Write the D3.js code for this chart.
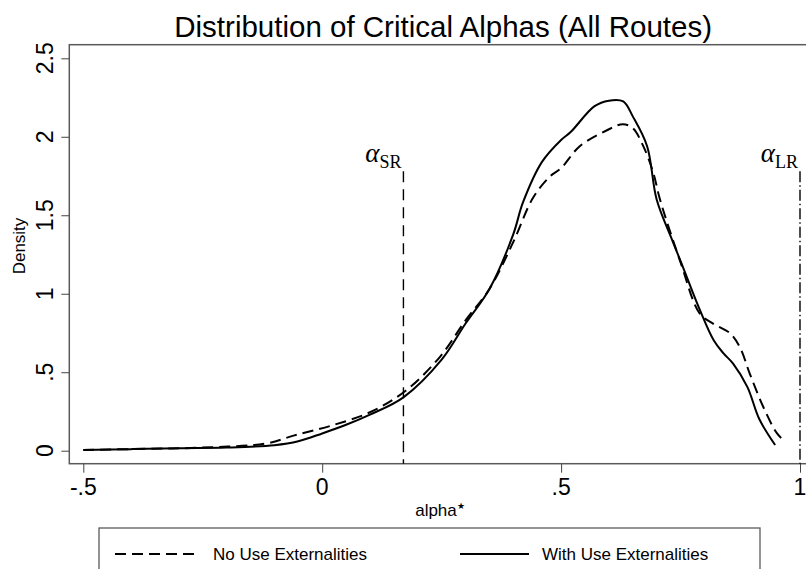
<!DOCTYPE html>
<html>
<head>
<meta charset="utf-8">
<script src="https://cdn.jsdelivr.net/npm/d3@7"></script>
<style>
  body { margin: 0; background: #fff; }
  text { font-family: "Liberation Sans", Arial, Helvetica, sans-serif; fill: #000; }
  .greek { font-family: "Liberation Serif", "Times New Roman", serif; }
</style>
</head>
<body>
<div id="chart"></div>
<script>
// density estimates
let withUseX = [-0.5, -0.4, -0.3, -0.2, -0.1, -0.05, 0, 0.05, 0.1, 0.17, 0.25, 0.3, 0.35, 0.4, 0.42, 0.46, 0.5, 0.52, 0.57, 0.6, 0.63, 0.65, 0.68, 0.7, 0.73, 0.755, 0.79, 0.82, 0.84, 0.86, 0.89, 0.915, 0.948];
let withUseY = [0.004, 0.01, 0.016, 0.02, 0.035, 0.06, 0.11, 0.165, 0.23, 0.34, 0.58, 0.81, 1.03, 1.38, 1.58, 1.84, 1.98, 2.03, 2.195, 2.23, 2.225, 2.13, 1.94, 1.6, 1.36, 1.17, 0.9, 0.7, 0.62, 0.555, 0.405, 0.2, 0.036];

let noUseX = [-0.5, -0.37, -0.25, -0.116, -0.06, 0.016, 0.1, 0.174, 0.247, 0.3, 0.35, 0.4, 0.441, 0.476, 0.5, 0.539, 0.595, 0.629, 0.65, 0.672, 0.693, 0.707, 0.75, 0.79, 0.818, 0.853, 0.874, 0.895, 0.923, 0.952, 0.969];
let noUseY = [0.005, 0.012, 0.02, 0.047, 0.096, 0.157, 0.245, 0.38, 0.6, 0.83, 1.03, 1.33, 1.61, 1.745, 1.8, 1.94, 2.04, 2.08, 2.055, 1.94, 1.77, 1.6, 1.2, 0.875, 0.81, 0.75, 0.66, 0.49, 0.28, 0.11, 0.057];

let xTicks = [-0.5, 0, 0.5, 1];
let yTicks = [0, 0.5, 1, 1.5, 2, 2.5];
let tickFmt = (v) => String(v).replace('0.', '.').replace('-0.', '-.');

// reference lines: alpha value, top of line, subscript
let refLines = [
  { alpha: 0.17, top: 1.78, sub: 'SR', dash: '11,7' },
  { alpha: 1.0, top: 1.78, sub: 'LR', dash: '11,3,1.5,3' },
];

let titleText = 'Distribution of Critical Alphas (All Routes)';
let legendLabels = ['No Use Externalities', 'With Use Externalities'];

let W = 806, H = 569;
let plot = { left: 69.3, right: 817, top: 44.7, bottom: 463.7 };

let x = d3.scaleLinear().domain([-0.5, 1]).range([83.3, 800]);
let y = d3.scaleLinear().domain([0, 2.5]).range([450.7, 58.3]);

const svg = d3.select('#chart').append('svg')
  .attr('width', W).attr('height', H)
  .attr('viewBox', [0, 0, W, H]);

// title
svg.append('text')
  .attr('x', (plot.left + plot.right) / 2)
  .attr('y', 37)
  .attr('text-anchor', 'middle')
  .style('font-size', '29.5px')
  .text(titleText);

// plot frame
svg.append('rect')
  .attr('x', plot.left).attr('y', plot.top)
  .attr('width', plot.right - plot.left)
  .attr('height', plot.bottom - plot.top)
  .attr('fill', 'none')
  .attr('stroke', '#5a5a5a')
  .attr('stroke-width', 1.5);

// y axis
let yAxis = (g) =>
  g.attr('transform', `translate(${plot.left},0)`)
    .call(d3.axisLeft(y).tickValues(yTicks).tickSize(8).tickFormat(''))
    .call((g) => g.select('.domain').remove())
    .call((g) => g.selectAll('line').attr('stroke', '#444'));
svg.append('g').attr('class', 'y-axis').call(yAxis);

svg.append('g').selectAll('text')
  .data(yTicks)
  .join('text')
  .attr('transform', (d) => `translate(53,${y(d)}) rotate(-90)`)
  .attr('text-anchor', 'middle')
  .style('font-size', '23px')
  .text(tickFmt);

// x axis
let xAxis = (g) =>
  g.attr('transform', `translate(0,${plot.bottom})`)
    .call(d3.axisBottom(x).tickValues(xTicks).tickSize(9).tickFormat(''))
    .call((g) => g.select('.domain').remove())
    .call((g) => g.selectAll('line').attr('stroke', '#444'));
svg.append('g').attr('class', 'x-axis').call(xAxis);

svg.append('g').selectAll('text')
  .data(xTicks)
  .join('text')
  .attr('x', (d) => x(d))
  .attr('y', 495)
  .attr('text-anchor', 'middle')
  .style('font-size', '23px')
  .text(tickFmt);

// axis titles
svg.append('text')
  .attr('transform', `translate(25,246) rotate(-90)`)
  .attr('text-anchor', 'middle')
  .style('font-size', '17px')
  .text('Density');

let xl = svg.append('text')
  .attr('x', 440)
  .attr('y', 516)
  .attr('text-anchor', 'middle')
  .style('font-size', '17px');
xl.append('tspan').text('alpha');
xl.append('tspan').attr('dy', -7).style('font-size', '9px').text('★');

// reference lines with greek labels
refLines.forEach((r) => {
  svg.append('line')
    .attr('x1', x(r.alpha)).attr('x2', x(r.alpha))
    .attr('y1', y(r.top)).attr('y2', plot.bottom)
    .attr('stroke', '#000')
    .attr('stroke-width', 1.4)
    .attr('stroke-dasharray', r.dash);
  let t = svg.append('text')
    .attr('class', 'greek')
    .attr('x', x(r.alpha) - 2)
    .attr('y', y(r.top) - 9)
    .attr('text-anchor', 'end');
  t.append('tspan').style('font-style', 'italic').style('font-size', '27px').text('α');
  t.append('tspan').attr('dy', 6).style('font-size', '18px').text(r.sub);
});

// density curves
let line = d3.line()
  .x((d) => x(d[0]))
  .y((d) => y(d[1]))
  .curve(d3.curveCatmullRom.alpha(0.5));

let noUse = noUseX.map((v, i) => [v, noUseY[i]]);
let withUse = withUseX.map((v, i) => [v, withUseY[i]]);

svg.append('path')
  .datum(noUse)
  .attr('d', line)
  .attr('fill', 'none')
  .attr('stroke', '#000')
  .attr('stroke-width', 2)
  .attr('stroke-dasharray', '11,6');

svg.append('path')
  .datum(withUse)
  .attr('d', line)
  .attr('fill', 'none')
  .attr('stroke', '#000')
  .attr('stroke-width', 2);

// legend
let legend = svg.append('g');
legend.append('rect')
  .attr('x', 99).attr('y', 528)
  .attr('width', 661).attr('height', 60)
  .attr('fill', 'none')
  .attr('stroke', '#5a5a5a')
  .attr('stroke-width', 1.3);

let legendItems = [
  { x1: 115, x2: 196, tx: 213, dash: '11,6', label: legendLabels[0] },
  { x1: 460, x2: 529, tx: 542, dash: null, label: legendLabels[1] },
];
legendItems.forEach((it) => {
  legend.append('line')
    .attr('x1', it.x1).attr('x2', it.x2)
    .attr('y1', 554).attr('y2', 554)
    .attr('stroke', '#000')
    .attr('stroke-width', 2)
    .attr('stroke-dasharray', it.dash);
  legend.append('text')
    .attr('x', it.tx).attr('y', 560)
    .style('font-size', '17px')
    .text(it.label);
});
</script>
</body>
</html>
